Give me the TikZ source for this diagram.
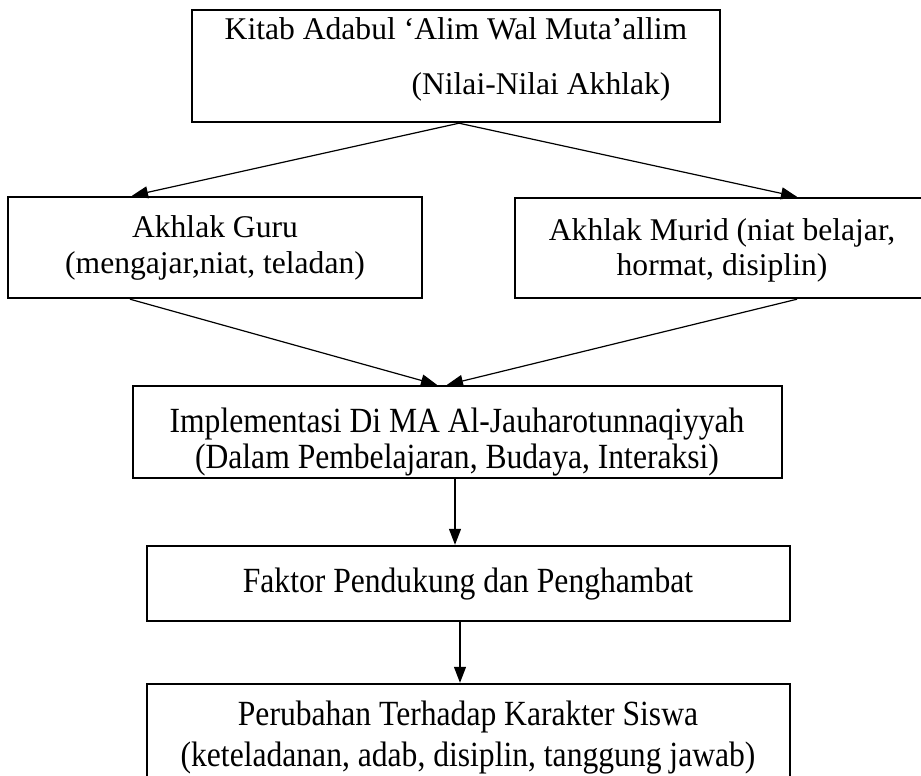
\documentclass[tikz,border=0pt]{standalone}
\usepackage{fontspec}
\setmainfont{Liberation Serif}
\usetikzlibrary{arrows.meta}
\tikzset{
  boxnode/.style={draw=black, line width=2.4pt, rectangle, inner sep=0pt, fill=none},
  txt/.style={anchor=base, inner sep=0pt, font=\fontsize{31.6pt}{38pt}\selectfont},
  conn/.style={line width=1.2pt, -{Triangle[length=16pt,width=12pt]}}
}
\newcommand{\tallx}[1]{\scalebox{1}[1.12]{#1}}
\begin{document}
\begin{tikzpicture}[x=1pt,y=-1pt]
\useasboundingbox (0,0) rectangle (921,776);
\fill[white] (0,0) rectangle (921,776);
\begin{scope}
\clip (0,0) rectangle (921,776);
% boxes
\node[boxnode, minimum width=528pt, minimum height=112pt] (b1) at (456,66) {};
\node[boxnode, minimum width=414pt, minimum height=101pt] (b2) at (215,247.5) {};
\node[boxnode, minimum width=410pt, minimum height=100pt] (b3) at (720,248) {};
\node[boxnode, minimum width=649pt, minimum height=92pt] (b4) at (457.5,432) {};
\node[boxnode, minimum width=643pt, minimum height=75pt] (b5) at (468.5,583.5) {};
\node[boxnode, minimum width=643pt, minimum height=106pt] (b6) at (468.5,737) {};
% texts
\node[txt] (t1a) at (456,40) {Kitab Adabul ‘Alim Wal Muta’allim};
\node[txt] (t1b) at (541,95) {(Nilai-Nilai Akhlak)};
\node[txt] (t2a) at (215,237) {Akhlak Guru};
\node[txt] (t2b) at (215,273) {(mengajar,niat, teladan)};
\node[txt] (t3a) at (722,240) {Akhlak Murid (niat belajar,};
\node[txt] (t3b) at (722,275) {hormat, disiplin)};
\node[txt] (t4a) at (457,432) {\tallx{Implementasi Di MA Al-Jauharotunnaqiyyah}};
\node[txt] (t4b) at (457,468) {\tallx{(Dalam Pembelajaran, Budaya, Interaksi)}};
\node[txt] (t5a) at (468,592) {\tallx{Faktor Pendukung dan Penghambat}};
\node[txt] (t6a) at (468,725) {\tallx{Perubahan Terhadap Karakter Siswa}};
\node[txt] (t6b) at (468,766) {\tallx{(keteladanan, adab, disiplin, tanggung jawab)}};
% connectors
\draw[conn] ([xshift=3pt]b1.south) -- ([xshift=-83pt]b2.north);
\draw[conn] ([xshift=3pt]b1.south) -- ([xshift=77pt]b3.north);
\draw[conn] ([xshift=-85pt]b2.south) -- ([xshift=-20.5pt]b4.north);
\draw[conn] ([xshift=77pt]b3.south) -- ([xshift=-10.5pt]b4.north);
\draw[conn] ([xshift=-2.5pt]b4.south) -- ([xshift=-13.5pt]b5.north);
\draw[conn] ([xshift=-8.5pt]b5.south) -- ([xshift=-8.5pt]b6.north);
\end{scope}
\end{tikzpicture}
\end{document}
